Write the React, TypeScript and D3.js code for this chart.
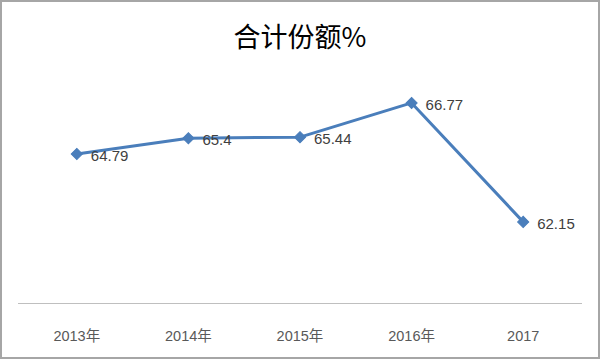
import React from "react";
import * as d3 from "d3";

const categories = ["2013年", "2014年", "2015年", "2016年", "2017"];
const values = [64.79, 65.4, 65.44, 66.77, 62.15];
const labels = ["64.79", "65.4", "65.44", "66.77", "62.15"];
const title = "合计份额%";

export default function App() {
  const W = 600, H = 359;
  const x = d3.scaleBand<string>().domain(categories).range([21, 579]);
  const y = d3.scaleLinear().domain([59, 67]).range([303, 97]);
  const pts: [number, number][] = values.map((v, i) => [x(categories[i])! + x.bandwidth() / 2, y(v)]);
  const line = d3.line()(pts) || "";
  const diamond = d3.symbol().type(d3.symbolSquare).size(62)() || "";
  const font = "'Liberation Sans', 'Noto Sans CJK SC', sans-serif";
  return (
    <svg width={W} height={H} style={{ position: "absolute", left: 0, top: 0 }}>
      <rect x={0} y={0} width={W} height={H} fill="#fff" />
      <rect x={1} y={1} width={W - 2} height={H - 2} fill="none" stroke="#a6a6a6" strokeWidth={2} />
      <text x={300} y={47} textAnchor="middle" fontSize={27} fontFamily="'Noto Sans CJK SC', sans-serif" fill="#000">{title}</text>
      <line x1={18} x2={582} y1={303.5} y2={303.5} stroke="#bfbfbf" strokeWidth={1} />
      {categories.map((c, i) => (
        <text key={c} x={x(c)! + x.bandwidth() / 2} y={341} textAnchor="middle" fontSize={14.5} fontFamily={font} fill="#595959">{c}</text>
      ))}
      <path d={line} fill="none" stroke="#4a7ebb" strokeWidth={3} strokeLinejoin="round" />
      {pts.map((p, i) => (
        <path key={i} d={diamond} transform={`translate(${p[0]},${p[1]}) rotate(45)`} fill="#4a7ebb" stroke="#4a7ebb" strokeWidth={1} />
      ))}
      {pts.map((p, i) => (
        <text key={"l" + i} x={p[0] + 14} y={p[1] + 7} fontSize={15} fontFamily={font} fill="#404040">{labels[i]}</text>
      ))}
    </svg>
  );
}
